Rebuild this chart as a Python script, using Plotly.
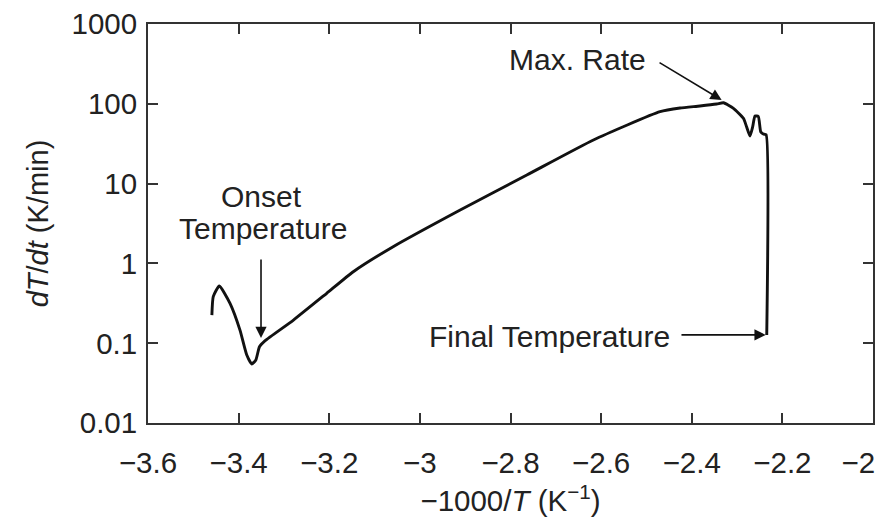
import math
import plotly.graph_objects as go

# Curve data: x = -1000/T (1/K), y = dT/dt (K/min)
x_vals = [-3.459, -3.456, -3.4426, -3.419, -3.397, -3.382, -3.371, -3.362, -3.354, -3.342,
          -3.279, -3.2056, -3.147, -3.059, -2.911, -2.764, -2.617, -2.470, -2.4258,
          -2.382, -2.345, -2.330, -2.308, -2.286, -2.279, -2.2714, -2.2655, -2.2604,
          -2.2531, -2.2478, -2.242, -2.236, -2.2345]
y_vals = [0.225, 0.383, 0.521, 0.316, 0.146, 0.0711, 0.0549, 0.0616, 0.0904, 0.107,
          0.195, 0.422, 0.787, 1.62, 4.67, 12.8, 35.2, 79.6, 88.5,
          93.8, 99.4, 103, 87.8, 65.8, 51.6, 39.5, 51.6, 70.3,
          69.4, 44.7, 41.8, 41.0, 0.127]

x_ticks = [-3.6, -3.4, -3.2, -3.0, -2.8, -2.6, -2.4, -2.2, -2.0]
x_tick_labels = ["\u22123.6", "\u22123.4", "\u22123.2", "\u22123", "\u22122.8", "\u22122.6",
                 "\u22122.4", "\u22122.2", "\u22122\u2002\u2002"]
y_ticks = [0.01, 0.1, 1, 10, 100, 1000]
y_tick_labels = ["0.01", "0.1", "1", "10", "100", "1000"]

FONT = "Liberation Sans, Arial, Helvetica, sans-serif"
AX = "#333333"
TXT = "#222222"
TICK_SIZE = 29.5
ANN_SIZE = 30

L = math.log10

fig = go.Figure()
fig.add_trace(go.Scatter(x=x_vals, y=y_vals, mode="lines",
                         line=dict(color="#111111", width=2.9, shape="spline", smoothing=0.5),
                         showlegend=False, hoverinfo="skip"))

ann_font = dict(family=FONT, size=ANN_SIZE, color=TXT)
arrow_style = dict(showarrow=True, arrowhead=2, arrowsize=1.4, arrowwidth=1.6,
                   arrowcolor="#111111", text="", axref="x", ayref="y", xref="x", yref="y")

annotations = [
    # Onset Temperature
    dict(x=-3.3506, y=L(0.116), ax=-3.3506, ay=L(1.17), **arrow_style),
    dict(x=-3.35, y=L(6.89), xref="x", yref="y", text="Onset", showarrow=False,
         font=ann_font, xanchor="center", yanchor="middle"),
    dict(x=-3.346, y=L(2.70), xref="x", yref="y", text="Temperature", showarrow=False,
         font=ann_font, xanchor="center", yanchor="middle"),
    # Max. Rate
    dict(x=-2.334, y=L(111.6), ax=-2.4744, ay=L(337), **arrow_style),
    dict(x=-2.4965, y=L(354), xref="x", yref="y", text="Max. Rate", showarrow=False,
         font=ann_font, xanchor="right", yanchor="middle"),
    # Final Temperature
    dict(x=-2.2369, y=L(0.127), ax=-2.426, ay=L(0.127), **arrow_style),
    dict(x=-2.4442, y=L(0.1207), xref="x", yref="y", text="Final Temperature", showarrow=False,
         font=ann_font, xanchor="right", yanchor="middle"),
]

fig.update_layout(
    width=879, height=519,
    margin=dict(l=148, r=6, t=24, b=96),
    paper_bgcolor="white", plot_bgcolor="white",
    font=dict(family=FONT, size=TICK_SIZE, color=TXT),
    annotations=annotations,
    xaxis=dict(range=[-3.6, -2.0], tickvals=x_ticks, ticktext=x_tick_labels,
               ticks="inside", ticklen=10, tickwidth=1.5, tickcolor=AX,
               showline=True, linecolor=AX, linewidth=1.8, mirror="ticks",
               showgrid=False, zeroline=False, automargin=False,
               ticklabeloverflow="allow",
               tickfont=dict(family=FONT, size=TICK_SIZE, color=TXT),
               ticklabelstandoff=13,
               title=dict(text="\u22121000/<i>T</i> (K<sup>\u22121</sup>)",
                          font=dict(family=FONT, size=TICK_SIZE, color=TXT), standoff=12)),
    yaxis=dict(type="log", range=[-2, 3], tickvals=y_ticks, ticktext=y_tick_labels,
               ticks="inside", ticklen=10, tickwidth=1.5, tickcolor=AX,
               showline=True, linecolor=AX, linewidth=1.8, mirror="ticks",
               showgrid=False, zeroline=False, automargin=False,
               ticklabeloverflow="allow",
               tickfont=dict(family=FONT, size=TICK_SIZE, color=TXT),
               ticklabelstandoff=3,
               title=dict(text="<i>dT</i>/<i>dt</i> (K/min)",
                          font=dict(family=FONT, size=29, color=TXT), standoff=14)),
)

fig.write_html("out.html", config={"displayModeBar": False},
               post_script="document.body.style.margin='0';document.body.style.padding='0';")
